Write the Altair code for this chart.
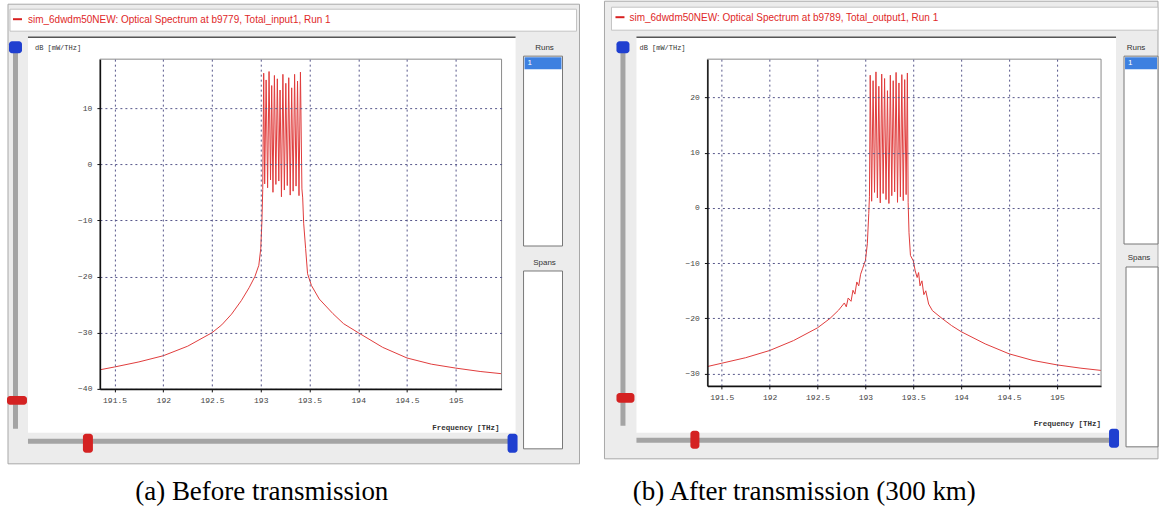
import altair as alt
import pandas as pd

# ---------------- data ----------------
FREQ_A = [191.35, 191.5, 191.75, 192.0, 192.25, 192.5, 192.6, 192.7, 192.8, 192.88, 192.94, 192.98,
          193.0, 193.012, 193.02,
          193.03, 193.04, 193.055, 193.07, 193.085, 193.1, 193.112, 193.125, 193.14, 193.155,
          193.17, 193.185, 193.198, 193.212, 193.227, 193.242, 193.257, 193.272, 193.287, 193.302,
          193.317, 193.332, 193.347, 193.362, 193.377, 193.392, 193.407, 193.422, 193.43,
          193.44, 193.46, 193.48, 193.52, 193.6, 193.74, 193.85, 194.0, 194.25, 194.5, 194.75,
          195.0, 195.25, 195.47]
DB_A = [-36.6, -36.1, -35.2, -34.1, -32.4, -30.0, -28.6, -26.7, -24.3, -22.0, -20.0, -18.0,
        -15.0, -10.0, -4.5,
        16.2, -3.5, 15.0, -4.2, 16.5, -2.8, 14.0, -5.0, 15.8, -3.6,
        15.2, -3.0, 13.2, -5.8, 16.0, -4.6, 14.4, -3.8, 15.4, -5.5,
        13.6, -4.8, 16.0, -3.9, 14.8, -5.6, 16.4, -4.4, -6.0,
        -10.5, -15.0, -19.5, -21.6, -24.0, -26.6, -28.4, -30.0, -32.6, -34.5, -35.6,
        -36.3, -36.9, -37.3]

FREQ_B = [191.35, 191.5, 191.75, 192.0, 192.25, 192.5, 192.63, 192.72, 192.78, 192.8, 192.82,
          192.85, 192.87, 192.89, 192.91, 192.93, 192.95, 192.97, 193.0, 193.02, 193.035, 193.042,
          193.05, 193.065, 193.08, 193.095, 193.11, 193.125, 193.14, 193.155, 193.17, 193.185,
          193.2, 193.215, 193.23, 193.245, 193.26, 193.275, 193.29, 193.305, 193.32, 193.335,
          193.35, 193.365, 193.38, 193.395, 193.41, 193.425, 193.438, 193.446,
          193.455, 193.47, 193.5, 193.52, 193.54, 193.555, 193.57, 193.59, 193.61, 193.63,
          193.66, 193.7, 193.8, 193.9, 194.0, 194.25, 194.5, 194.75, 195.0, 195.25, 195.46]
DB_B = [-28.7, -28.1, -27.1, -25.8, -24.0, -21.7, -20.0, -18.5, -17.2, -17.9, -16.3,
        -16.9, -14.9, -15.6, -13.4, -14.1, -12.0, -11.0, -9.5, -6.5, -1.0, 2.0,
        24.0, 1.2, 23.0, 2.8, 24.6, 1.8, 22.0, 0.9, 24.2, 2.6,
        23.4, 1.5, 21.2, 0.8, 24.0, 2.2, 23.0, 2.9, 24.5, 1.0,
        22.6, 2.0, 24.1, 1.3, 23.2, 2.4, 24.4, 1.0,
        -4.5, -8.6, -9.6, -11.4, -12.6, -11.7, -14.1, -13.2, -15.7, -15.0,
        -17.4, -18.6, -20.0, -21.3, -22.4, -24.6, -26.4, -27.6, -28.4, -29.0, -29.4]

X_TICKS = [191.5, 192, 192.5, 193, 193.5, 194, 194.5, 195]
Y_TICKS_A = [-40, -30, -20, -10, 0, 10]
Y_TICKS_B = [-30, -20, -10, 0, 10, 20]
X_DOMAIN_A = [191.35, 195.47]
X_DOMAIN_B = [191.35, 195.46]
Y_DOMAIN_A = [-40, 18.7]
Y_DOMAIN_B = [-32.2, 26.9]

TITLE_A = "sim_6dwdm50NEW: Optical Spectrum at b9779, Total_input1, Run 1"
TITLE_B = "sim_6dwdm50NEW: Optical Spectrum at b9789, Total_output1, Run 1"
CAPTION_A = "(a) Before transmission"
CAPTION_B = "(b) After transmission (300 km)"
Y_UNIT = "dB [mW/THz]"
X_UNIT = "Frequency [THz]"
RUNS = "Runs"
SPANS = "Spans"
RUN_ID = "1"

# ---------------- helpers ----------------
one = pd.DataFrame({"k": [0]})
LINE_RED = "#e03c3c"
MONO = "Liberation Mono"
SANS = "Liberation Sans"


def box(x, x2, y, y2, fill, stroke="", sw=1, r=0):
    kw = dict(fill=fill, strokeWidth=sw)
    if stroke:
        kw["stroke"] = stroke
    if r:
        kw["cornerRadius"] = r
    return alt.Chart(one).mark_rect(**kw).encode(
        x=alt.value(x), x2=alt.value(x2), y=alt.value(y), y2=alt.value(y2))


def hline(x, x2, y, color, w=1):
    return alt.Chart(one).mark_rule(color=color, strokeWidth=w).encode(
        x=alt.value(x), x2=alt.value(x2), y=alt.value(y))


def label(x, y, text, size, color, font, align="left", weight="normal"):
    return alt.Chart(one).mark_text(text=text, align=align, baseline="middle", fontSize=size,
                                    color=color, font=font, fontWeight=weight).encode(
        x=alt.value(x), y=alt.value(y))


def panel(freq, db, xdom, ydom, yticks, W, H, d, title, caption, full_bg=False):
    df = pd.DataFrame({"f": freq, "db": db})
    axis_common = dict(grid=True, gridColor="#55558a", gridDash=[2, 3], gridWidth=1,
                       domainColor="#111111", domainWidth=1.5, tickColor="#111111", tickSize=3,
                       labelFont=MONO, labelFontSize=8, labelColor="#444444", zindex=1)
    line = alt.Chart(df).mark_line(color=LINE_RED, strokeWidth=1, clip=True).encode(
        x=alt.X("f:Q", scale=alt.Scale(domain=xdom, nice=False, zero=False),
                axis=alt.Axis(values=X_TICKS, labelPadding=5,
                              labelExpr="datum.value % 1 == 0 ? format(datum.value, '.0f') : format(datum.value, '.1f')",
                              **axis_common),
                title=None),
        y=alt.Y("db:Q", scale=alt.Scale(domain=ydom, nice=False, zero=False),
                axis=alt.Axis(values=yticks, labelPadding=5, **axis_common),
                title=None),
    )
    layers = []
    if full_bg:
        layers.append(box(-100, 1059, -58, 448, "#ffffff"))
    layers += [
        box(d["win"][0], d["win"][1], d["win"][2], d["win"][3], "#ececec", "#a8a8a8"),
        box(d["strip"][0], d["strip"][1], d["strip"][2], d["strip"][3], "#ffffff", "#c4c4c4"),
        hline(d["dash"][0], d["dash"][1], d["dash"][2], "#d82020", 2),
        label(d["ttl"][0], d["ttl"][1], title, 10, "#e02828", SANS),
        box(d["inner"][0], d["inner"][1], d["inner"][2], d["inner"][3], "#ffffff"),
        hline(d["inner"][0], d["inner"][1], d["inner"][2], "#555555", 1.5),
        # vertical slider
        box(d["vtrack"][0], d["vtrack"][1], d["vtrack"][2], d["vtrack"][3], "#a4a4a4"),
        box(d["vblue"][0], d["vblue"][1], d["vblue"][2], d["vblue"][3], "#1f3fd0", "", 1, 3),
        box(d["vred"][0], d["vred"][1], d["vred"][2], d["vred"][3], "#d42222", "", 1, 3),
        # horizontal slider
        box(d["htrack"][0], d["htrack"][1], d["htrack"][2], d["htrack"][3], "#a4a4a4"),
        box(d["hred"][0], d["hred"][1], d["hred"][2], d["hred"][3], "#d42222", "", 1, 3),
        box(d["hblue"][0], d["hblue"][1], d["hblue"][2], d["hblue"][3], "#1f3fd0", "", 1, 3),
        # runs / spans
        label(d["runs"][0], d["runs"][1], RUNS, 8, "#333333", SANS, "center"),
        box(d["runbox"][0], d["runbox"][1], d["runbox"][2], d["runbox"][3], "#ffffff", "#777777"),
        box(d["runbox"][0] + 1, d["runbox"][1] - 1, d["runbox"][2] + 1, d["runbox"][2] + 13, "#3d80e0"),
        label(d["runbox"][0] + 4, d["runbox"][2] + 7, RUN_ID, 8, "#ffffff", SANS),
        label(d["spans"][0], d["spans"][1], SPANS, 8, "#333333", SANS, "center"),
        box(d["spanbox"][0], d["spanbox"][1], d["spanbox"][2], d["spanbox"][3], "#ffffff", "#777777"),
        # plot
        line,
        box(0, W, 0, H, "transparent", "#8a8a8a"),
        label(d["dbl"][0], d["dbl"][1], Y_UNIT, 7, "#333333", MONO),
        label(d["fql"][0], d["fql"][1], X_UNIT, 7.5, "#333333", MONO, "right", "bold"),
        label(d["cap"][0], d["cap"][1], caption, 27, "#000000", "Liberation Serif", "center"),
    ]
    return alt.layer(*layers).properties(width=W, height=H)


DECO_A = dict(win=(-92, 480, -55, 405), strip=(-90, 477, -50, -28), dash=(-87, -78, -40),
              ttl=(-72, -39), inner=(-72, 416, -22, 374), vtrack=(-87, -82, -13, 370),
              vblue=(-91, -78, -18, -6), vred=(-93, -73, 337, 346), htrack=(-72, 410, 380, 385),
              hred=(-17, -7, 375, 394), hblue=(408, 418, 375, 394), runs=(445, -11),
              runbox=(424, 463, -3, 187), spans=(445, 204), spanbox=(424, 463, 212, 390),
              dbl=(-65, -11), fql=(400, 369), cap=(162, 433))
DECO_B = dict(win=(-103, 451, -58, 400), strip=(-96, 451, -52, -29), dash=(-92, -83, -42),
              ttl=(-78, -41), inner=(-71, 409, -22, 374), vtrack=(-87, -82, -13, 367),
              vblue=(-91, -78, -18, -6), vred=(-91, -73, 334, 344), htrack=(-71, 402, 379, 384),
              hred=(-17, -8, 372, 390), hblue=(402, 412, 370, 389), runs=(429, -11),
              runbox=(417, 451, -3, 185), spans=(432, 199), spanbox=(419, 451, 208, 388),
              dbl=(-68, -11), fql=(394, 365), cap=(97, 433))

left = panel(FREQ_A, DB_A, X_DOMAIN_A, Y_DOMAIN_A, Y_TICKS_A, 402, 330, DECO_A,
             TITLE_A, CAPTION_A, full_bg=True)
right = panel(FREQ_B, DB_B, X_DOMAIN_B, Y_DOMAIN_B, Y_TICKS_B, 394, 327, DECO_B,
              TITLE_B, CAPTION_B)

chart = alt.hconcat(left, right, spacing=206, bounds="flush", padding=0).configure_view(
    strokeWidth=0)

chart.save("out.html", embed_options={"renderer": "svg", "actions": False})
